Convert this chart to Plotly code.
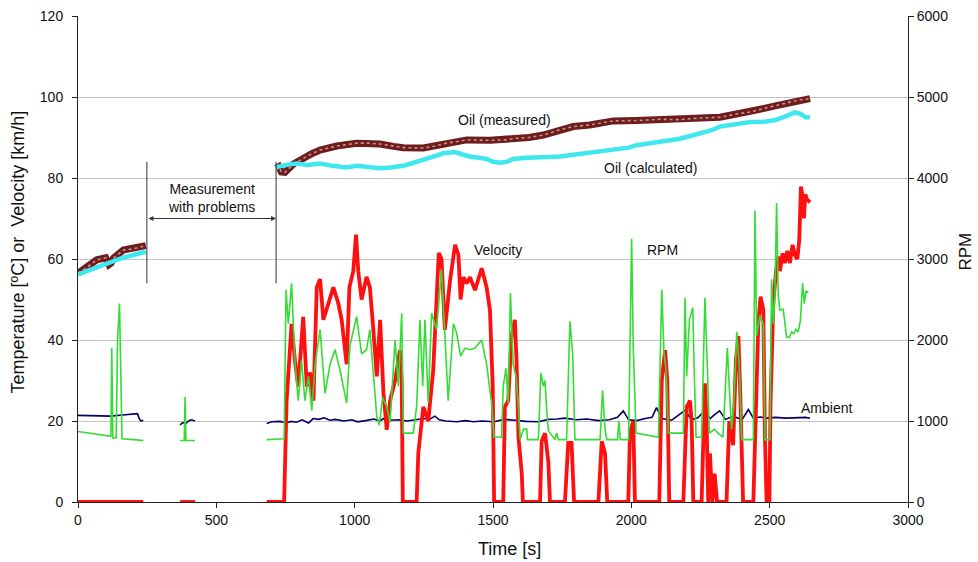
import plotly.graph_objects as go

# ---------------- data (time [s], value) ----------------
GAP = (None, None)

velocity_kmh = [
    (0, 0), (236, 0), GAP, (369, 0), (423, 0), GAP,
    (682, 0), (745, 0), (754, 25), (772, 44), (784, 35), (796, 28.5), (814, 45.7), (827, 28.5),
    (839, 32), (851, 25), (863, 53), (875, 55), (887, 45), (905, 49), (923, 53), (941, 49),
    (953, 45), (971, 34), (981, 53), (995, 57), (1005, 66), (1013, 57), (1025, 50), (1043, 55.6),
    (1055, 53), (1067, 43), (1080, 31), (1092, 45), (1104, 27), (1116, 17.8), (1128, 25),
    (1146, 30), (1164, 37.5), (1170, 30), (1174, 0), (1224, 0), (1230, 12), (1248, 23.5),
    (1266, 20), (1284, 32.6), (1296, 53), (1304, 61.5), (1314, 60), (1326, 42.5), (1345, 54.8),
    (1363, 63.5), (1375, 61), (1383, 50), (1393, 55.5), (1405, 54), (1417, 55.5), (1435, 52.3),
    (1459, 57.7), (1477, 53), (1489, 47.4), (1499, 28.5), (1504, 0), (1537, 0), (1543, 23.5),
    (1555, 25), (1567, 40.8), (1579, 45), (1585, 35), (1592, 16), (1604, 7), (1608, 0),
    (1670, 0), (1676, 15), (1688, 17), (1700, 10), (1706, 0), (1760, 0), (1772, 14.6),
    (1784, 14.6), (1793, 0), (1881, 0), (1893, 15), (1905, 12), (1913, 0), (1989, 0),
    (1995, 17), (2007, 20), (2013, 0), (2101, 0), (2110, 30), (2122, 37.5), (2130, 30),
    (2137, 0), (2188, 0), (2200, 23.5), (2212, 25), (2218, 20), (2224, 0), (2254, 0),
    (2266, 29.3), (2272, 20), (2278, 0), (2284, 12), (2293, 0), (2301, 7), (2310, 0),
    (2344, 0), (2354, 20), (2362, 17), (2368, 14), (2378, 35), (2387, 41), (2393, 28.5),
    (2404, 0), (2441, 0), (2447, 16), (2459, 44), (2467, 50.7), (2477, 47.5), (2483, 16),
    (2489, 0), (2499, 0), (2503, 24), (2513, 49), (2523, 57), (2531, 60.6), (2537, 57),
    (2547, 61.4), (2555, 59), (2564, 62), (2573, 59), (2583, 63.5), (2591, 61), (2600, 60),
    (2607, 64.7), (2613, 77.9), (2619, 75.5), (2624, 70), (2629, 76), (2634, 74.8), (2646, 74),
]

engine_rpm = [
    (0, 870), (60, 840), (115, 810), (119, 810), (122, 1900), (126, 790), (138, 790),
    (143, 2000), (150, 2450), (156, 1500), (159, 780), (200, 770), (236, 760), GAP,
    (369, 760), (384, 760), (387, 1300), (390, 760), (423, 760), GAP,
    (682, 770), (745, 780), (752, 2620), (760, 2200), (772, 2700), (784, 1750), (796, 1250),
    (808, 1750), (820, 1250), (833, 1550), (845, 1130), (857, 1700), (875, 2130), (893, 1340),
    (911, 1700), (929, 1880), (947, 1630), (971, 1220), (983, 1930), (1007, 2290), (1025, 1830),
    (1043, 1880), (1055, 2130), (1067, 1630), (1080, 1050), (1089, 950), (1101, 1290),
    (1116, 1180), (1128, 980), (1146, 2000), (1158, 1430), (1170, 2330), (1176, 850),
    (1212, 850), (1224, 1180), (1236, 2250), (1246, 1430), (1254, 2250), (1266, 1220),
    (1278, 2330), (1296, 2130), (1314, 2870), (1326, 2000), (1338, 1250), (1357, 2200),
    (1369, 2080), (1383, 1800), (1399, 1900), (1417, 1880), (1435, 1900), (1459, 2000),
    (1477, 1700), (1495, 1220), (1504, 800), (1531, 800), (1537, 1430), (1547, 1650),
    (1555, 1220), (1563, 2580), (1573, 1700), (1583, 1550), (1592, 1180), (1598, 770),
    (1610, 900), (1622, 900), (1624, 770), (1664, 770), (1673, 1590), (1682, 1430),
    (1688, 1500), (1694, 1140), (1700, 880), (1724, 770), (1730, 850), (1736, 770),
    (1766, 770), (1778, 2230), (1788, 1830), (1796, 770), (1887, 770), (1896, 1380),
    (1905, 900), (1911, 770), (1950, 770), (1955, 1000), (1960, 770), (1990, 770),
    (1995, 1900), (2001, 3250), (2007, 1900), (2017, 850), (2098, 800), (2104, 1840),
    (2110, 2620), (2118, 1840), (2125, 1650), (2134, 850), (2188, 850), (2194, 2520),
    (2200, 1550), (2210, 2250), (2216, 2330), (2222, 2400), (2227, 1650), (2234, 800),
    (2254, 800), (2266, 2520), (2275, 1650), (2282, 850), (2301, 900), (2313, 850),
    (2331, 800), (2347, 1900), (2354, 1430), (2362, 900), (2371, 1220), (2381, 2100),
    (2390, 1700), (2399, 770), (2441, 770), (2447, 3600), (2453, 2050), (2465, 2300),
    (2477, 2200), (2483, 770), (2501, 770), (2507, 2750), (2513, 2200), (2519, 2550),
    (2525, 3690), (2531, 2550), (2537, 2370), (2549, 2380), (2561, 2040), (2571, 2030),
    (2579, 2100), (2587, 2080), (2595, 2130), (2603, 2100), (2611, 2240), (2619, 2700),
    (2625, 2450), (2631, 2600), (2640, 2590),
]

ambient_c = [
    (0, 21.4), (40, 21.3), (80, 21.3), (120, 21.2), (160, 21.5), (200, 21.7), (215, 21.8),
    (222, 20.5), (228, 20.0), (236, 20.2), GAP,
    (369, 19.0), (378, 19.6), (390, 19.4), (400, 20.0), (410, 20.3), (423, 20.0), GAP,
    (682, 19.4), (700, 19.8), (730, 19.9), (754, 19.5), (770, 19.9), (790, 19.7), (810, 20.3),
    (833, 19.5), (850, 20.6), (870, 20.4), (890, 20.8), (910, 20.2), (930, 20.4), (960, 20.0),
    (990, 20.3), (1010, 19.8), (1040, 20.1), (1070, 20.5), (1090, 20.0), (1110, 20.8),
    (1130, 20.2), (1160, 20.3), (1190, 20.0), (1220, 20.3), (1250, 20.6), (1270, 20.4),
    (1290, 21.2), (1306, 20.3), (1330, 20.0), (1369, 19.8), (1400, 20.1), (1430, 19.8),
    (1460, 20.0), (1504, 19.8), (1540, 20.4), (1579, 20.2), (1620, 19.9), (1664, 19.8),
    (1700, 20.4), (1730, 20.5), (1760, 20.7), (1800, 20.3), (1840, 20.5), (1881, 20.1),
    (1920, 20.3), (1950, 20.9), (1971, 22.5), (1990, 20.3), (2020, 20.1), (2050, 20.6),
    (2075, 20.9), (2091, 23.3), (2110, 20.6), (2146, 20.2), (2170, 21.3), (2194, 22.6),
    (2218, 20.3), (2240, 20.8), (2266, 22.6), (2285, 20.6), (2300, 21.5), (2319, 22.5),
    (2340, 20.4), (2368, 21.2), (2400, 20.3), (2423, 22.8), (2441, 20.7), (2465, 21.0),
    (2490, 20.7), (2520, 20.9), (2560, 20.7), (2600, 20.8), (2630, 20.9), (2646, 20.7),
]

oil_measured_c = [
    (0, 56.5), (30, 57.8), (68, 59.8), (100, 60.3), (112, 58.6), (120, 59.0), (128, 60.2),
    (164, 62.2), (200, 62.5), (236, 63.2), (245, 63.3), GAP,
    (716, 82.4), (726, 82.8), (735, 81.5), (748, 81.4), (780, 83.5), (814, 84.9), (845, 86.0),
    (875, 86.9), (935, 87.9), (1007, 88.6), (1050, 88.6), (1092, 88.4), (1140, 87.8),
    (1176, 87.5), (1248, 87.4), (1290, 87.9), (1332, 88.6), (1405, 89.4), (1489, 89.3),
    (1540, 89.4), (1585, 89.8), (1630, 90.0), (1682, 90.6), (1742, 91.9), (1790, 92.7),
    (1850, 93.1), (1935, 94.1), (2019, 94.2), (2104, 94.5), (2176, 94.4), (2248, 94.8),
    (2320, 95.0), (2380, 95.8), (2430, 96.3), (2480, 97.2), (2520, 97.8), (2560, 98.5),
    (2600, 99.2), (2646, 99.6),
]

oil_calculated_c = [
    (0, 56.2), (40, 57.3), (80, 58.3), (116, 59.3), (160, 60.3), (200, 61.0), (245, 61.8), GAP,
    (716, 82.5), (724, 82.8), (760, 83.3), (790, 83.6), (830, 83.2), (875, 83.6), (920, 83.0),
    (971, 82.6), (1007, 83.0), (1050, 82.6), (1092, 82.4), (1130, 82.6), (1176, 83.0),
    (1210, 83.7), (1248, 84.4), (1290, 85.4), (1320, 86.1), (1362, 86.4), (1390, 85.8),
    (1416, 85.3), (1450, 85.0), (1477, 84.7), (1500, 84.0), (1525, 83.8), (1550, 84.0),
    (1573, 84.7), (1620, 85.0), (1657, 85.2), (1700, 85.2), (1742, 85.3), (1790, 85.7),
    (1838, 86.1), (1890, 86.5), (1947, 86.9), (1990, 87.5), (2019, 88.1), (2060, 88.5),
    (2104, 88.9), (2140, 89.2), (2176, 89.7), (2210, 90.3), (2248, 91.0), (2290, 91.8),
    (2320, 92.7), (2370, 93.3), (2430, 93.8), (2480, 93.9), (2520, 94.3), (2560, 95.3),
    (2590, 96.2), (2610, 95.9), (2630, 95.0), (2646, 95.0),
]

problem_start_s = 249
problem_end_s = 716

x_ticks = [0, 500, 1000, 1500, 2000, 2500, 3000]
y_ticks = [0, 20, 40, 60, 80, 100, 120]
rpm_ticks = [0, 1000, 2000, 3000, 4000, 5000, 6000]


def split(pairs):
    return [p[0] for p in pairs], [p[1] for p in pairs]


FONT = "Liberation Sans, Arial, sans-serif"
fig = go.Figure()

t, v = split(oil_measured_c)
fig.add_trace(go.Scatter(x=t, y=v, mode="lines", line=dict(color="#6e1c1c", width=7),
                         connectgaps=False, showlegend=False, hoverinfo="skip"))
fig.add_trace(go.Scatter(x=t, y=v, mode="lines", line=dict(color="#c99090", width=1.6, dash="dot"),
                         connectgaps=False, showlegend=False, hoverinfo="skip"))
t, v = split(oil_calculated_c)
fig.add_trace(go.Scatter(x=t, y=v, mode="lines", line=dict(color="#3ee8ee", width=4.5),
                         connectgaps=False, showlegend=False))
t, v = split(ambient_c)
fig.add_trace(go.Scatter(x=t, y=v, mode="lines", line=dict(color="#000066", width=1.6),
                         connectgaps=False, showlegend=False))
t, v = split(velocity_kmh)
fig.add_trace(go.Scatter(x=t, y=v, mode="lines", line=dict(color="#ff1010", width=3.8),
                         connectgaps=False, showlegend=False))
t, v = split(engine_rpm)
fig.add_trace(go.Scatter(x=t, y=v, yaxis="y2", mode="lines", line=dict(color="#33dd33", width=1.6),
                         connectgaps=False, showlegend=False))

# vertical marker lines for the problem period
for xs in (problem_start_s, problem_end_s):
    fig.add_shape(type="line", xref="x", yref="y", x0=xs, x1=xs, y0=54, y1=84,
                  line=dict(color="#333333", width=1))

fig.add_annotation(x=problem_end_s, y=70, ax=problem_start_s, ay=70, xref="x", yref="y",
                   axref="x", ayref="y", text="", showarrow=True, arrowhead=2,
                   arrowside="end+start", arrowsize=1, arrowwidth=1, arrowcolor="#333333")

labels = [
    (484, 75, "Measurement<br>with problems"),
    (1540, 94.2, "Oil (measured)"),
    (2071, 82.5, "Oil (calculated)"),
    (1518, 62.2, "Velocity"),
    (2111, 62.2, "RPM"),
    (2707, 23.2, "Ambient"),
]
for x, y, txt in labels:
    fig.add_annotation(x=x, y=y, xref="x", yref="y", text=txt, showarrow=False,
                       font=dict(family=FONT, size=14, color="#111111"))

# axis titles placed as paper-referenced text
fig.add_annotation(x=-0.072, y=0.514, xref="paper", yref="paper", text="Temperature [ºC] or  Velocity [km/h]",
                   textangle=-90, showarrow=False, xanchor="center", yanchor="middle",
                   font=dict(family=FONT, size=18, color="#111111"))
fig.add_annotation(x=0.52, y=-0.097, xref="paper", yref="paper", text="Time [s]",
                   showarrow=False, xanchor="center", yanchor="middle",
                   font=dict(family=FONT, size=18, color="#111111"))
fig.add_annotation(x=1.069, y=0.516, xref="paper", yref="paper", text="RPM",
                   textangle=-90, showarrow=False, xanchor="center", yanchor="middle",
                   font=dict(family=FONT, size=17, color="#111111"))

fig.update_layout(
    width=978, height=562,
    margin=dict(l=78, r=70, t=16, b=60, autoexpand=False),
    paper_bgcolor="white", plot_bgcolor="white",
    font=dict(family=FONT, size=14, color="#111111"),
    xaxis=dict(range=[0, 3000], tickvals=x_ticks, showgrid=False, zeroline=False,
               showline=True, linecolor="#222222", linewidth=1, ticks="outside",
               ticklen=5, tickcolor="#222222", automargin=False),
    yaxis=dict(range=[0, 120], tickvals=y_ticks, showgrid=True, gridcolor="#c4c4c4",
               gridwidth=1, zeroline=False, showline=True, linecolor="#222222",
               linewidth=1, ticks="outside", ticklen=5, tickcolor="#222222", automargin=False,
               ticklabelstandoff=6),
    yaxis2=dict(range=[0, 6000], tickvals=rpm_ticks, overlaying="y", side="right",
                showgrid=False, zeroline=False, showline=True, linecolor="#222222",
                linewidth=1, ticks="outside", ticklen=5, tickcolor="#222222", automargin=False),
)

fig.write_html("out.html", config={"displayModeBar": False},
               post_script="document.body.style.margin='0';")
